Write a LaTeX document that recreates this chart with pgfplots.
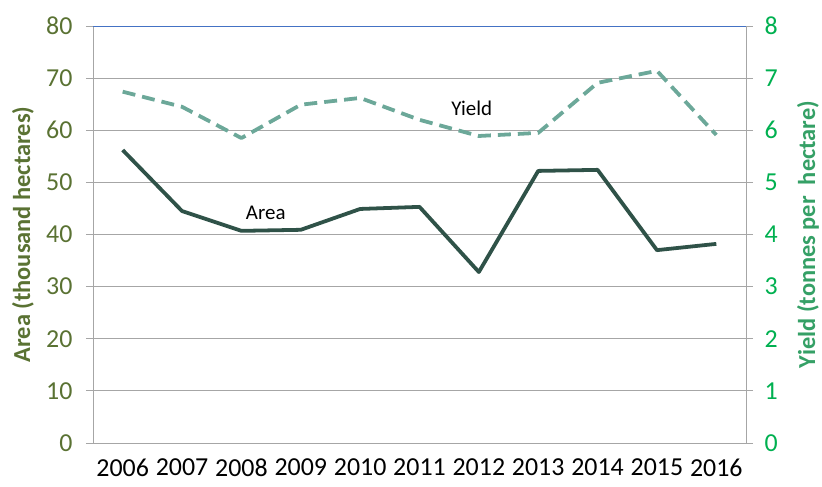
\documentclass[border=0pt]{standalone}
\usepackage{pgfplots}
\pgfplotsset{compat=1.18}
\usepackage{fontspec}
\setmainfont{Carlito}
\definecolor{leftc}{HTML}{5A7233}
\definecolor{rightc}{HTML}{00B050}
\definecolor{rlab}{HTML}{35A066}
\definecolor{areac}{HTML}{2F5248}
\definecolor{yieldc}{HTML}{6CA899}
\definecolor{gridc}{HTML}{A6A6A6}
\definecolor{topc}{HTML}{4472C4}
\begin{document}
\begin{tikzpicture}
\pgfplotsset{
  common/.style={
    scale only axis, width=653bp, height=417bp,
    at={(0,0)}, anchor=south west,
    xmin=-0.5, xmax=10.5,
    /pgf/number format/assume math mode=true,
    tick label style={font=\fontsize{26}{30}\selectfont},
  }
}
\begin{axis}[common,
  ymin=0, ymax=80, ytick={0,10,...,80},
  axis x line*=bottom, axis y line*=left,
  axis line style={gridc, line width=1pt},
  ymajorgrids, grid style={gridc, line width=1pt},
  xtick={0,...,10},
  xticklabels={2006,2007,2008,2009,2010,2011,2012,2013,2014,2015,2016},
  major x tick style={draw=none},
  extra x ticks={-0.5,0.5,...,10.5}, extra x tick labels={},
  extra x tick style={major tick length=8bp, tick align=outside, tick style={gridc, line width=1pt}, grid=none},
  xticklabel style={yshift=-5bp, text=black},
  ytick style={gridc, line width=1pt}, major tick length=7bp, tick align=outside,
  yticklabel style={text=leftc, xshift=-10bp},
  ylabel={\bfseries Area (thousand hectares)},
  ylabel style={text=leftc, font=\fontsize{24.5}{28}\selectfont, at={(rel axis cs:0,0.5)}, yshift=70bp, anchor=center},
  clip=false,
]
\addplot[areac, line width=3.8pt, line join=round] coordinates {
(0,56.2)(1,44.5)(2,40.7)(3,40.9)(4,44.9)(5,45.3)(6,32.8)(7,52.2)(8,52.4)(9,37.0)(10,38.2)};
\draw[topc, line width=1pt] (rel axis cs:0,1) -- (rel axis cs:1,1);
\node[font=\fontsize{21}{24}\selectfont] at (axis cs:2.41,44.1) {Area};
\node[font=\fontsize{21}{24}\selectfont] at (axis cs:5.88,64.3) {Yield};
\end{axis}
\begin{axis}[common,
  ymin=0, ymax=8, ytick={0,1,...,8},
  axis x line=none, axis y line*=right,
  axis line style={gridc, line width=1pt},
  ytick style={gridc, line width=1pt}, major tick length=7bp, tick align=outside,
  yticklabel style={text=rightc, xshift=8bp},
  ylabel={\bfseries Yield (tonnes per\ \ hectare)},
  ylabel style={text=rlab, font=\fontsize{24.5}{28}\selectfont, at={(rel axis cs:1,0.5)}, yshift=-62bp, anchor=center, rotate=0},
  clip=false,
]
\addplot[yieldc, line width=3.8pt, dash pattern=on 13bp off 7bp, line join=round] coordinates {
(0,6.74)(1,6.45)(2,5.85)(3,6.49)(4,6.62)(5,6.2)(6,5.89)(7,5.95)(8,6.91)(9,7.14)(10,5.91)};
\end{axis}
\pgfresetboundingbox
\path (-93bp,-44bp) rectangle (729bp,443bp);
\end{tikzpicture}
\end{document}
